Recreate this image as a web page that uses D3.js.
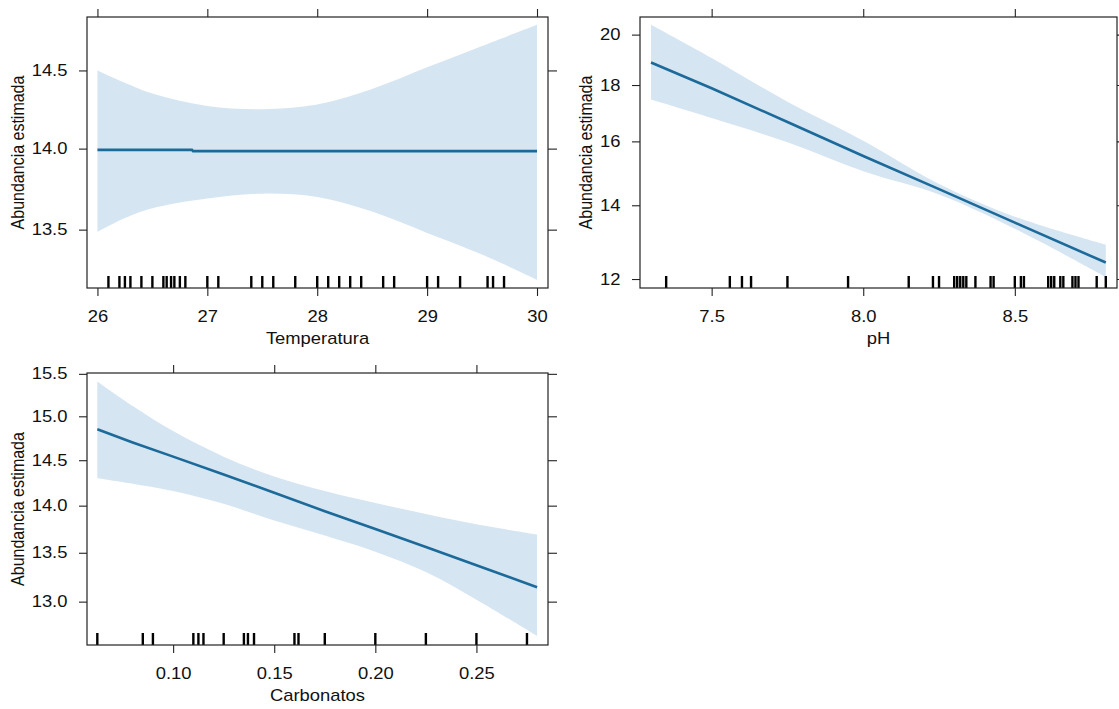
<!DOCTYPE html>
<html>
<head>
<meta charset="utf-8">
<script src="https://cdn.jsdelivr.net/npm/d3@7"></script>
<style>
  body { margin: 0; background: #fff; }
  text { font-family: "Liberation Sans", Arial, sans-serif; }
</style>
</head>
<body>
<div id="chart"></div>
<script>
// Temperatura panel
var tempX     = [26, 26.25, 26.5, 27, 27.5, 28, 28.5, 29, 29.5, 30];
var tempUpper = [14.50, 14.42, 14.35, 14.27, 14.25, 14.28, 14.38, 14.52, 14.66, 14.80];
var tempLower = [13.486, 13.57, 13.63, 13.69, 13.72, 13.70, 13.61, 13.48, 13.35, 13.20];
var tempFitX  = [26, 26.86, 26.87, 30];
var tempFit   = [13.992, 13.992, 13.984, 13.984];
var tempRug   = [26.1, 26.2, 26.25, 26.3, 26.4, 26.5, 26.6, 26.63, 26.67, 26.7, 26.75, 26.8,
                 27.0, 27.1, 27.4, 27.5, 27.6, 27.8, 28.0, 28.1, 28.2, 28.3, 28.4, 28.6, 28.7,
                 29.0, 29.1, 29.3, 29.55, 29.6, 29.7];
var tempXTicks = [26, 27, 28, 29, 30];
var tempYTicks = [13.5, 14.0, 14.5];

// pH panel
var phX     = [7.3, 7.5, 7.75, 8.0, 8.25, 8.5, 8.8];
var phFit   = [18.87, 17.88, 16.66, 15.52, 14.48, 13.5, 12.42];
var phUpper = [20.42, 19.05, 17.38, 16.02, 14.64, 13.67, 12.89];
var phLower = [17.46, 16.80, 15.97, 15.03, 14.32, 13.33, 12.05];
var phRug   = [7.35, 7.56, 7.60, 7.63, 7.75, 7.95, 8.15, 8.23, 8.25, 8.30, 8.31, 8.32, 8.33,
               8.34, 8.37, 8.42, 8.43, 8.50, 8.52, 8.53, 8.61, 8.62, 8.63, 8.65, 8.66, 8.69,
               8.70, 8.71, 8.77, 8.80];
var phXTicks = [7.5, 8.0, 8.5];
var phYTicks = [12, 14, 16, 18, 20];

// Carbonatos panel
var carbX     = [0.0625, 0.08, 0.10, 0.125, 0.15, 0.175, 0.20, 0.225, 0.25, 0.28];
var carbFit   = [14.85, 14.70, 14.54, 14.34, 14.14, 13.94, 13.75, 13.56, 13.37, 13.145];
var carbUpper = [15.41, 15.12, 14.83, 14.54, 14.32, 14.16, 14.03, 13.91, 13.80, 13.69];
var carbLower = [14.30, 14.24, 14.16, 14.02, 13.84, 13.68, 13.51, 13.30, 13.02, 12.66];
var carbRug   = [0.0625, 0.085, 0.09, 0.11, 0.1125, 0.115, 0.125, 0.135, 0.137, 0.14, 0.16, 0.162,
                 0.175, 0.20, 0.225, 0.25, 0.275];
var carbXTicks = [0.10, 0.15, 0.20, 0.25];
var carbYTicks = [13.0, 13.5, 14.0, 14.5, 15.0, 15.5];

var yTitle = "Abundancia estimada";

var width = 1119, height = 709;
var SX = 1.15; // text is a bit wider than the font in the original
var bandColor = "#d6e5f2", lineColor = "#1c6a9a";

var svg = d3.select("#chart")
  .append("svg")
  .attr("width", width)
  .attr("height", height)
  .style("background", "#fff");

function drawPanel(p) {
  var w = p.right - p.left, h = p.bottom - p.top;
  var g = svg.append("g").attr("transform", "translate(" + p.left + "," + p.top + ")");

  var x = d3.scaleLinear().domain(p.xDomain).range([0, w]);
  var y = d3.scaleLog().domain(p.yDomain).range([h, 0]);

  // confidence band
  var band = p.bandX.map(function(v, i) { return { x: v, lo: p.lower[i], hi: p.upper[i] }; });
  g.append("path")
    .datum(band)
    .attr("d", d3.area()
      .curve(d3.curveCatmullRom)
      .x(function(d) { return x(d.x); })
      .y0(function(d) { return y(d.lo); })
      .y1(function(d) { return y(d.hi); }))
    .attr("fill", bandColor);

  // fitted line
  var fit = p.fitX.map(function(v, i) { return { x: v, y: p.fit[i] }; });
  g.append("path")
    .datum(fit)
    .attr("d", d3.line()
      .x(function(d) { return x(d.x); })
      .y(function(d) { return y(d.y); }))
    .attr("fill", "none")
    .attr("stroke", lineColor)
    .attr("stroke-width", 2.6);

  // rug
  g.selectAll("rug")
    .data(p.rug)
    .enter()
    .append("line")
      .attr("x1", function(d) { return x(d); })
      .attr("x2", function(d) { return x(d); })
      .attr("y1", h - 12)
      .attr("y2", h)
      .attr("stroke", "#000")
      .attr("stroke-width", 2.4);

  // axes
  g.append("g").attr("transform", "translate(0," + h + ")")
    .call(d3.axisBottom(x).tickValues(p.xTicks).tickFormat(p.fmtX).tickSize(8).tickPadding(14.6));
  g.append("g")
    .call(d3.axisTop(x).tickValues(p.xTicks).tickFormat("").tickSize(8));
  g.append("g")
    .call(d3.axisLeft(y).tickValues(p.yTicks).tickFormat(p.fmtY).tickSize(8).tickPadding(9));
  g.append("g").attr("transform", "translate(" + w + ",0)")
    .call(d3.axisRight(y).tickValues(p.yTicks).tickFormat("").tickSize(9));

  g.selectAll(".domain").remove();
  g.selectAll(".tick line").attr("stroke", "#222").attr("stroke-width", 1.1);
  g.selectAll(".tick text")
    .attr("fill", "#111")
    .style("font-size", "16px")
    .style("font-family", "'Liberation Sans', Arial, sans-serif")
    .attr("transform", "scale(" + SX + ",1)");

  // frame
  g.append("rect")
    .attr("width", w)
    .attr("height", h)
    .attr("fill", "none")
    .attr("stroke", "#222")
    .attr("stroke-width", 1.2);

  // titles
  g.append("text")
    .attr("transform", "translate(" + (w / 2) + "," + (h + 56) + ") scale(" + SX + ",1)")
    .attr("text-anchor", "middle")
    .style("font-size", "16px")
    .attr("fill", "#111")
    .text(p.xTitle);

  g.append("text")
    .attr("transform", "translate(" + p.yTitleX + "," + (h / 2) + ") scale(" + SX + ",1) rotate(-90)")
    .attr("text-anchor", "middle")
    .style("font-size", "16px")
    .attr("fill", "#111")
    .text(yTitle);
}

drawPanel({
  left: 87, right: 548, top: 17, bottom: 288,
  xDomain: [25.905, 30.1], yDomain: [13.151, 14.852],
  bandX: tempX, upper: tempUpper, lower: tempLower,
  fitX: tempFitX, fit: tempFit, rug: tempRug,
  xTicks: tempXTicks, yTicks: tempYTicks,
  fmtX: d3.format("d"), fmtY: d3.format(".1f"),
  xTitle: "Temperatura", yTitleX: -63
});

drawPanel({
  left: 640, right: 1117, top: 17, bottom: 288,
  xDomain: [7.2637, 8.837], yDomain: [11.777, 20.75],
  bandX: phX, upper: phUpper, lower: phLower,
  fitX: phX, fit: phFit, rug: phRug,
  xTicks: phXTicks, yTicks: phYTicks,
  fmtX: d3.format(".1f"), fmtY: d3.format("d"),
  xTitle: "pH", yTitleX: -48
});

drawPanel({
  left: 87, right: 548, top: 373, bottom: 645,
  xDomain: [0.0574, 0.2854], yDomain: [12.572, 15.51],
  bandX: carbX, upper: carbUpper, lower: carbLower,
  fitX: carbX, fit: carbFit, rug: carbRug,
  xTicks: carbXTicks, yTicks: carbYTicks,
  fmtX: d3.format(".2f"), fmtY: d3.format(".1f"),
  xTitle: "Carbonatos", yTitleX: -63
});
</script>
</body>
</html>
